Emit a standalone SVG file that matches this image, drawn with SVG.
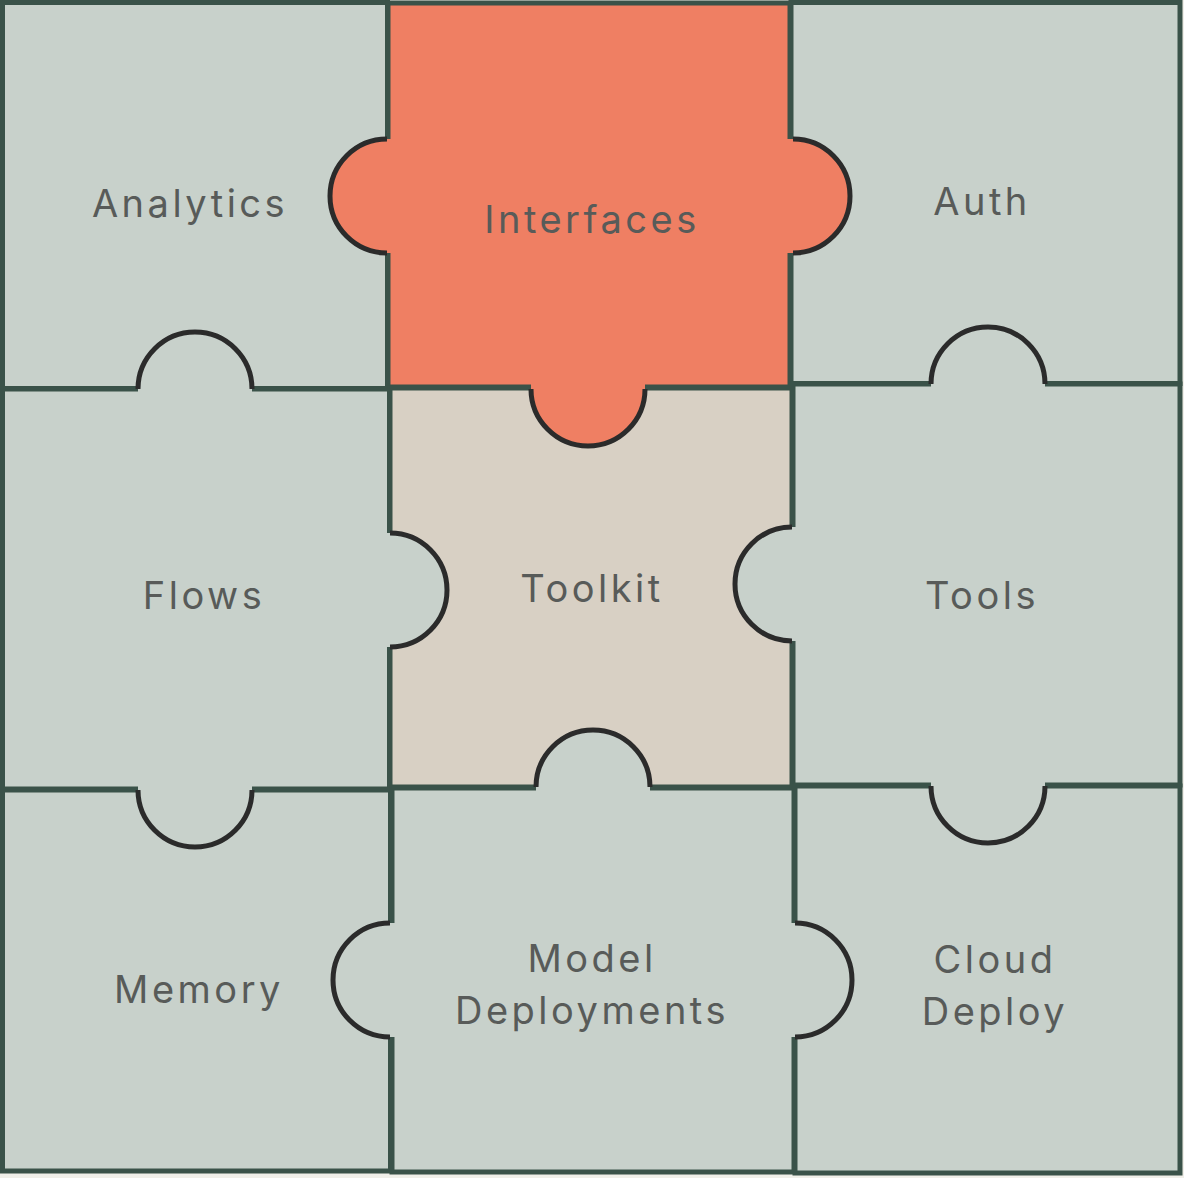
<svg xmlns="http://www.w3.org/2000/svg" width="1184" height="1178" viewBox="0 0 1184 1178">
<style>
.p{stroke:#3a5249;stroke-width:5}
.g{fill:#c8d1cb}
.o{fill:#ef7f63}
.t{fill:#d8d0c4}
.kf{stroke:none}
.ka{fill:none;stroke:#2b2b2b;stroke-width:5}
text{font-family:Inter,"Liberation Sans",sans-serif;font-size:38px;fill:#585b59;text-anchor:middle;letter-spacing:3.5px}
</style>
<rect width="1184" height="1178" fill="#f0efe9"/>
<g id="analytics"><rect class="p g" x="2.5" y="2.5" width="385" height="386"/></g>
<g id="interfaces"><rect class="p o" x="388" y="3" width="402" height="384"/></g>
<g id="auth"><rect class="p g" x="791" y="2.5" width="389" height="381"/></g>
<g id="flows"><rect class="p g" x="2.5" y="389" width="387" height="400"/></g>
<g id="toolkit"><rect class="p t" x="390" y="388" width="402" height="399"/></g>
<g id="tools"><rect class="p g" x="793" y="384" width="387" height="401"/></g>
<g id="memory"><rect class="p g" x="2.5" y="790" width="388" height="381"/></g>
<g id="model-deployments"><rect class="p g" x="392" y="788" width="402" height="384"/></g>
<g id="cloud-deploy"><rect class="p g" x="795" y="786" width="385" height="387"/></g>
<g id="knobs">
<path class="kf o" d="M393 139 L387 139 A57 57 0 0 0 387 253 L393 253 Z"/>
<path class="ka" d="M387 139 A57 57 0 0 0 387 253"/>
<path class="kf o" d="M786 139 L793 139 A57 57 0 0 1 793 253 L786 253 Z"/>
<path class="ka" d="M793 139 A57 57 0 0 1 793 253"/>
<path class="kf o" d="M531 382 L531 389 A57 57 0 0 0 645 389 L645 382 Z"/>
<path class="ka" d="M531 389 A57 57 0 0 0 645 389"/>
<path class="kf g" d="M138 394 L138 389 A57 57 0 0 1 252 389 L252 394 Z"/>
<path class="ka" d="M138 389 A57 57 0 0 1 252 389"/>
<path class="kf g" d="M931 389 L931 384 A57 57 0 0 1 1045 384 L1045 389 Z"/>
<path class="ka" d="M931 384 A57 57 0 0 1 1045 384"/>
<path class="kf g" d="M385 533 L390 533 A57 57 0 0 1 390 647 L385 647 Z"/>
<path class="ka" d="M390 533 A57 57 0 0 1 390 647"/>
<path class="kf g" d="M798 527 L792 527 A57 57 0 0 0 792 641 L798 641 Z"/>
<path class="ka" d="M792 527 A57 57 0 0 0 792 641"/>
<path class="kf g" d="M536 793 L536 787 A57 57 0 0 1 650 787 L650 793 Z"/>
<path class="ka" d="M536 787 A57 57 0 0 1 650 787"/>
<path class="kf g" d="M138 784 L138 790 A57 57 0 0 0 252 790 L252 784 Z"/>
<path class="ka" d="M138 790 A57 57 0 0 0 252 790"/>
<path class="kf g" d="M931 780 L931 786 A57 57 0 0 0 1045 786 L1045 780 Z"/>
<path class="ka" d="M931 786 A57 57 0 0 0 1045 786"/>
<path class="kf g" d="M396 923 L390 923 A57 57 0 0 0 390 1037 L396 1037 Z"/>
<path class="ka" d="M390 923 A57 57 0 0 0 390 1037"/>
<path class="kf g" d="M789 923 L795 923 A57 57 0 0 1 795 1037 L789 1037 Z"/>
<path class="ka" d="M795 923 A57 57 0 0 1 795 1037"/>
</g>
<g id="labels">
<text x="190" y="217">Analytics</text>
<text x="592" y="233">Interfaces</text>
<text x="982" y="215">Auth</text>
<text x="204" y="609">Flows</text>
<text x="592" y="602">Toolkit</text>
<text x="982" y="609">Tools</text>
<text x="199" y="1003">Memory</text>
<text x="592" y="972">Model</text>
<text x="592" y="1024">Deployments</text>
<text x="995" y="973">Cloud</text>
<text x="995" y="1025">Deploy</text>
</g>
</svg>
